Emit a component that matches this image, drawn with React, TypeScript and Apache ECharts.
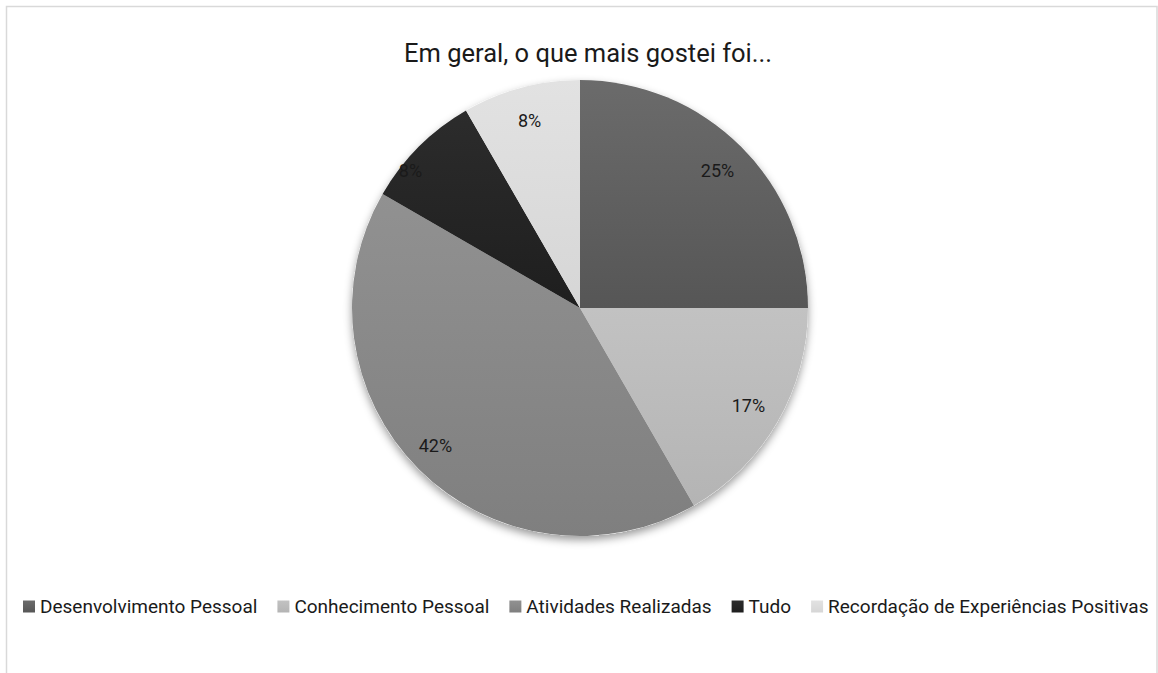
import React, { useEffect, useRef } from "react";
import * as echarts from "echarts";

const title = "Em geral, o que mais gostei foi...";
const categories = [
  "Desenvolvimento Pessoal",
  "Conhecimento Pessoal",
  "Atividades Realizadas",
  "Tudo",
  "Recordação de Experiências Positivas",
];
const values = [3, 2, 5, 1, 1];
const colorsTop = ["#6b6b6b", "#c2c2c2", "#919191", "#2c2c2c", "#e2e2e2"];
const colorsBottom = ["#565656", "#b4b4b4", "#7f7f7f", "#1e1e1e", "#d6d6d6"];

const FONT = "Roboto, 'Noto Sans', sans-serif";

export default function App() {
  const ref = useRef<HTMLDivElement>(null);
  useEffect(() => {
    if (!ref.current) return;
    const chart = echarts.init(ref.current, undefined, { renderer: "svg" });
    const R = 228;
    const data = categories.map((name, i) => ({
      name,
      value: values[i],
      itemStyle: {
        color: new echarts.graphic.LinearGradient(0, 0, 0, 1, [
          { offset: 0, color: colorsTop[i] },
          { offset: 1, color: colorsBottom[i] },
        ]),
      },
    }));
    chart.setOption({
      animation: false,
      backgroundColor: "#ffffff",
      textStyle: { fontFamily: FONT },
      graphic: [
        {
          type: "polyline",
          shape: {
            points: [
              [6.5, 680],
              [6.5, 6.5],
              [1157, 6.5],
              [1157, 680],
            ],
          },
          style: { fill: "none", stroke: "#d9d9d9", lineWidth: 1.5 },
          silent: true,
          z: -10,
        },
      ],
      title: {
        text: title,
        left: 399,
        top: 35,
        textStyle: {
          fontFamily: FONT,
          fontSize: 25.5,
          fontWeight: "normal",
          color: "#1a1a1a",
        },
      },
      legend: {
        data: categories,
        bottom: 57,
        left: 23,
        width: 1135,
        padding: 0,
        icon: "rect",
        itemWidth: 12,
        itemHeight: 12,
        itemGap: 20,
        textStyle: { fontFamily: FONT, fontSize: 19, color: "#1a1a1a" },
      },
      series: [
        {
          type: "pie",
          center: [580, 308],
          radius: R,
          silent: true,
          z: 1,
          label: { show: false },
          labelLine: { show: false },
          data: [
            {
              name: "__shadow",
              value: 1,
              itemStyle: {
                color: "#ffffff",
                shadowColor: "rgba(0,0,0,0.4)",
                shadowBlur: 9,
                shadowOffsetY: 4,
              },
            },
          ],
          legendHoverLink: false,
        },
        {
          type: "pie",
          center: [580, 308],
          radius: R,
          startAngle: 90,
          clockwise: true,
          z: 2,
          label: { show: false },
          labelLine: { show: false },
          data,
        },
        {
          type: "pie",
          center: [580, 308],
          radius: [R * 0.68, R],
          startAngle: 90,
          clockwise: true,
          silent: true,
          z: 3,
          itemStyle: { color: "rgba(0,0,0,0)" },
          label: {
            show: true,
            position: "inside",
            formatter: "{d}%",
            fontFamily: FONT,
            fontSize: 18,
            color: "#1a1a1a",
          },
          labelLine: { show: false },
          percentPrecision: 0,
          data: categories.map((name, i) =>
            i === 3
              ? { name, value: values[i], label: { padding: [0, 64, 0, 0] } }
              : i === 2
              ? { name, value: values[i], label: { padding: [12, 14, 0, 0] } }
              : { name, value: values[i] }
          ),
          legendHoverLink: false,
        },
      ],
    });
    return () => chart.dispose();
  }, []);
  return (
    <div
      ref={ref}
      style={{ position: "fixed", left: 0, top: 0, width: 1158, height: 673 }}
    />
  );
}
